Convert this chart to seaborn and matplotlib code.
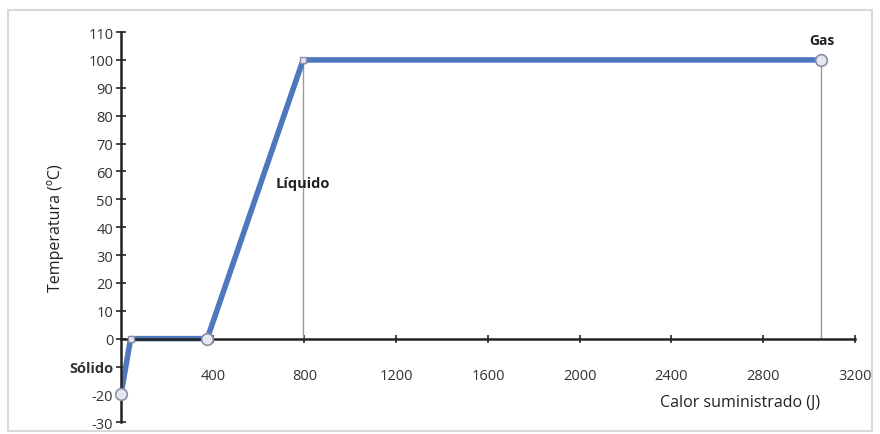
import pandas as pd
import seaborn as sns
import matplotlib.pyplot as plt
from matplotlib.patches import Rectangle

# Heating curve of water: heat supplied vs temperature
calor = [0, 42, 376, 794, 3054]
temperatura = [-20, 0, 0, 100, 100]
marker_pts = [0, 2, 4]
y_ticks = list(range(-30, 111, 10))
x_ticks = [400, 800, 1200, 1600, 2000, 2400, 2800, 3200]

df = pd.DataFrame({'Calor': calor, 'Temperatura': temperatura})

sns.set_style('white')
plt.rcParams['font.family'] = ['Open Sans', 'DejaVu Sans']

fig = plt.figure(figsize=(8.8, 4.35), dpi=100)
fig.patches.append(Rectangle((0.009, 0.008), 0.982, 0.966, transform=fig.transFigure,
                             fill=False, edgecolor='#d8d8d8', linewidth=1.5))
ax = fig.add_axes([0.1375, 0.027, 0.834, 0.897])

line_color = '#4f77bd'

# vertical guide lines at the phase-change points
for x in [calor[3], calor[4]]:
    ax.plot([x, x], [0, 100], color='#9a9a9a', linewidth=1, zorder=1)

sns.lineplot(data=df, x='Calor', y='Temperatura', ax=ax, color=line_color,
             linewidth=4, zorder=2)
sub = df.iloc[marker_pts]
ax.scatter(sub['Calor'], sub['Temperatura'], s=70, facecolor='#e6e6ee',
           edgecolor='#8a8fa8', linewidth=1.2, zorder=3, clip_on=False)
ax.scatter([calor[1], calor[3]], [temperatura[1], temperatura[3]], s=25, marker='s',
           facecolor='#e6e6ee', edgecolor='#8a8fa8', linewidth=1, zorder=3)

ax.set_xlim(0, 3200)
ax.set_ylim(-30, 110)
ax.spines['top'].set_visible(False)
ax.spines['right'].set_visible(False)
ax.spines['bottom'].set_position(('data', 0))
ax.spines['left'].set_linewidth(1.8)
ax.spines['bottom'].set_linewidth(1.8)
ax.spines['left'].set_color('#222222')
ax.spines['bottom'].set_color('#222222')

ax.set_yticks(y_ticks)
labels = [str(v) for v in y_ticks]
labels[y_ticks.index(-10)] = 'Sólido'
ax.set_yticklabels(labels, fontsize=10.5, color='#333333')
for t in ax.get_yticklabels():
    if t.get_text() == 'Sólido':
        t.set_fontweight('bold')
ax.set_xticks(x_ticks)
ax.set_xticklabels([str(v) for v in x_ticks], fontsize=10.5, color='#333333')
ax.tick_params(axis='y', direction='inout', length=7, width=1.2, pad=2, left=True)
ax.tick_params(axis='x', direction='inout', length=6, width=1.2, pad=18, bottom=True)

ax.set_ylabel('Temperatura (ºC)', fontsize=11.5, color='#222222', labelpad=4)
ax.set_xlabel('')
ax.text(2700, -22.5, 'Calor suministrado (J)', fontsize=11.5, color='#222222',
        ha='center', va='center')

ax.text(calor[3], 56, 'Líquido', fontsize=10.5, fontweight='bold', color='#222222',
        ha='center', va='center')
ax.text(calor[4], 107, 'Gas', fontsize=10, fontweight='bold', color='#222222',
        ha='center', va='center')

ax.grid(False)
fig.savefig('out.png', dpi=100)
